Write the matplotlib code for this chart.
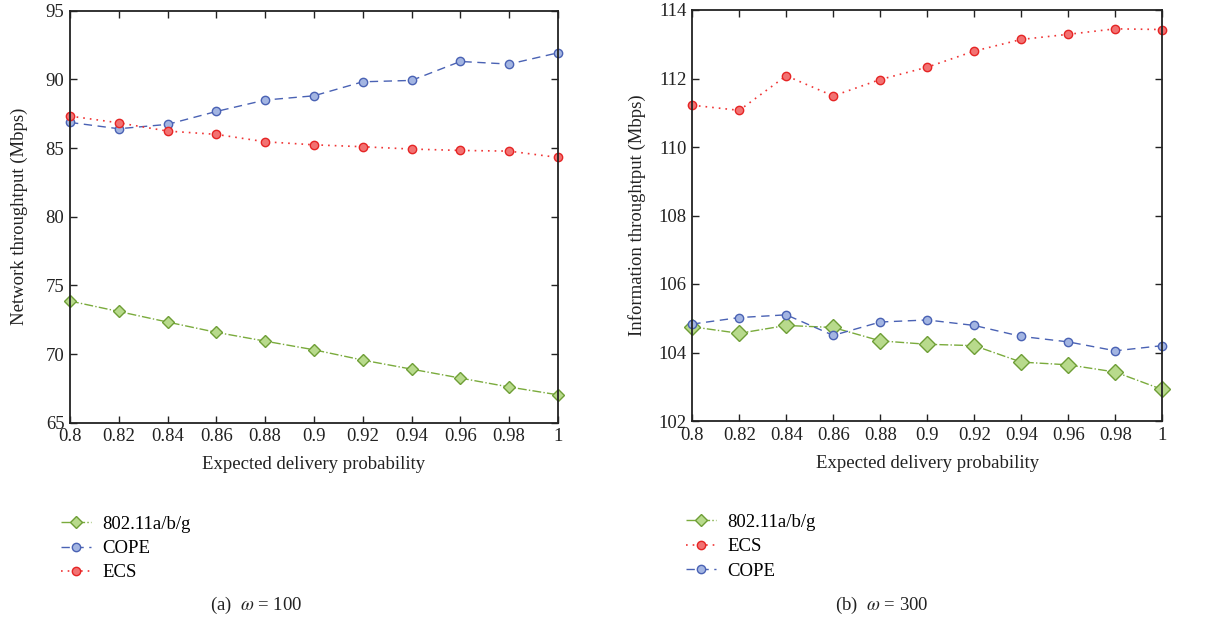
import matplotlib.pyplot as plt

plt.rcParams['font.family'] = ['Liberation Serif', 'DejaVu Serif']
plt.rcParams['mathtext.fontset'] = 'stix'

# Datos
prob = [0.8, 0.82, 0.84, 0.86, 0.88, 0.9, 0.92, 0.94, 0.96, 0.98, 1.0]
xticks_lbl = ['0.8', '0.82', '0.84', '0.86', '0.88', '0.9', '0.92', '0.94', '0.96', '0.98', '1']

# (a) omega = 100
wifi_a = [73.86, 73.1, 72.33, 71.58, 70.94, 70.31, 69.56, 68.9, 68.25, 67.6, 67.03]
cope_a = [86.87, 86.41, 86.73, 87.67, 88.5, 88.81, 89.83, 89.93, 91.31, 91.12, 91.94]
ecs_a = [87.33, 86.84, 86.24, 86.0, 85.46, 85.24, 85.1, 84.93, 84.83, 84.78, 84.32]

# (b) omega = 300
wifi_b = [104.75, 104.56, 104.79, 104.73, 104.34, 104.24, 104.2, 103.72, 103.64, 103.43, 102.92]
ecs_b = [111.22, 111.07, 112.08, 111.49, 111.97, 112.33, 112.8, 113.14, 113.29, 113.45, 113.43]
cope_b = [104.83, 105.02, 105.1, 104.5, 104.89, 104.95, 104.79, 104.47, 104.31, 104.05, 104.2]

fs = 13.5
gris = '#222222'

verde = dict(color='#7aab3c', linestyle='-.', marker='D', markersize=6.5,
             markerfacecolor='#b8da8c', markeredgecolor='#6e9e36', linewidth=1.0)
azul = dict(color='#4a62b4', linestyle=(0, (6, 4)), marker='o', markersize=6,
            markerfacecolor='#a3b5e2', markeredgecolor='#4a62b4', linewidth=1.0)
rojo = dict(color='#f03535', linestyle=(0, (1, 3)), marker='o', markersize=6,
            markerfacecolor='#f27272', markeredgecolor='#e52525', linewidth=1.2)

fig = plt.figure(figsize=(12.3, 6.25), dpi=100)
ax1 = fig.add_axes([0.0569, 0.3237, 0.3967, 0.659])
ax2 = fig.add_axes([0.5628, 0.3264, 0.3821, 0.6576])


def estilo(ax, ylim, yticks, ylabel, pad):
    ax.set_xlim(0.8, 1.0)
    ax.set_ylim(*ylim)
    ax.set_xticks(prob)
    ax.set_xticklabels(xticks_lbl)
    ax.set_yticks(yticks)
    ax.tick_params(direction='in', top=True, right=True, length=5, labelsize=fs,
                   width=1, color=gris, labelcolor=gris, pad=4)
    for s in ax.spines.values():
        s.set_linewidth(1.3)
        s.set_color(gris)
    ax.set_xlabel('Expected delivery probability', fontsize=fs, color=gris, labelpad=8)
    ax.set_ylabel(ylabel, fontsize=fs, color=gris, labelpad=pad)


def leyenda(ax, x0):
    leg = ax.legend(loc='upper left', bbox_to_anchor=(x0, -0.185), frameon=False, fontsize=fs,
                    handlelength=1.6, labelspacing=0.38, handletextpad=0.6)
    for h in leg.legend_handles:
        h.set_markersize(6)
        if h.get_marker() == 'D':
            h.set_markersize(6.5)
    return leg


ax1.plot(prob, wifi_a, label='802.11a/b/g', clip_on=False, **verde)
ax1.plot(prob, cope_a, label='COPE', clip_on=False, **azul)
ax1.plot(prob, ecs_a, label='ECS', clip_on=False, **rojo)
estilo(ax1, (65, 95), range(65, 96, 5), 'Network throughtput (Mbps)', 13)
leyenda(ax1, -0.053)

ax2.plot(prob, wifi_b, label='802.11a/b/g', clip_on=False, **dict(verde, markersize=8))
ax2.plot(prob, ecs_b, label='ECS', clip_on=False, **rojo)
ax2.plot(prob, cope_b, label='COPE', clip_on=False, **azul)
estilo(ax2, (102, 114), range(102, 115, 2), 'Information throughtput (Mbps)', 9)
leyenda(ax2, -0.049)

fig.text(0.208, 0.031, r'(a)  $\omega$ = 100', ha='center', va='center', fontsize=fs, color=gris)
fig.text(0.717, 0.031, r'(b)  $\omega$ = 300', ha='center', va='center', fontsize=fs, color=gris)

fig.savefig('out.png', dpi=100)
